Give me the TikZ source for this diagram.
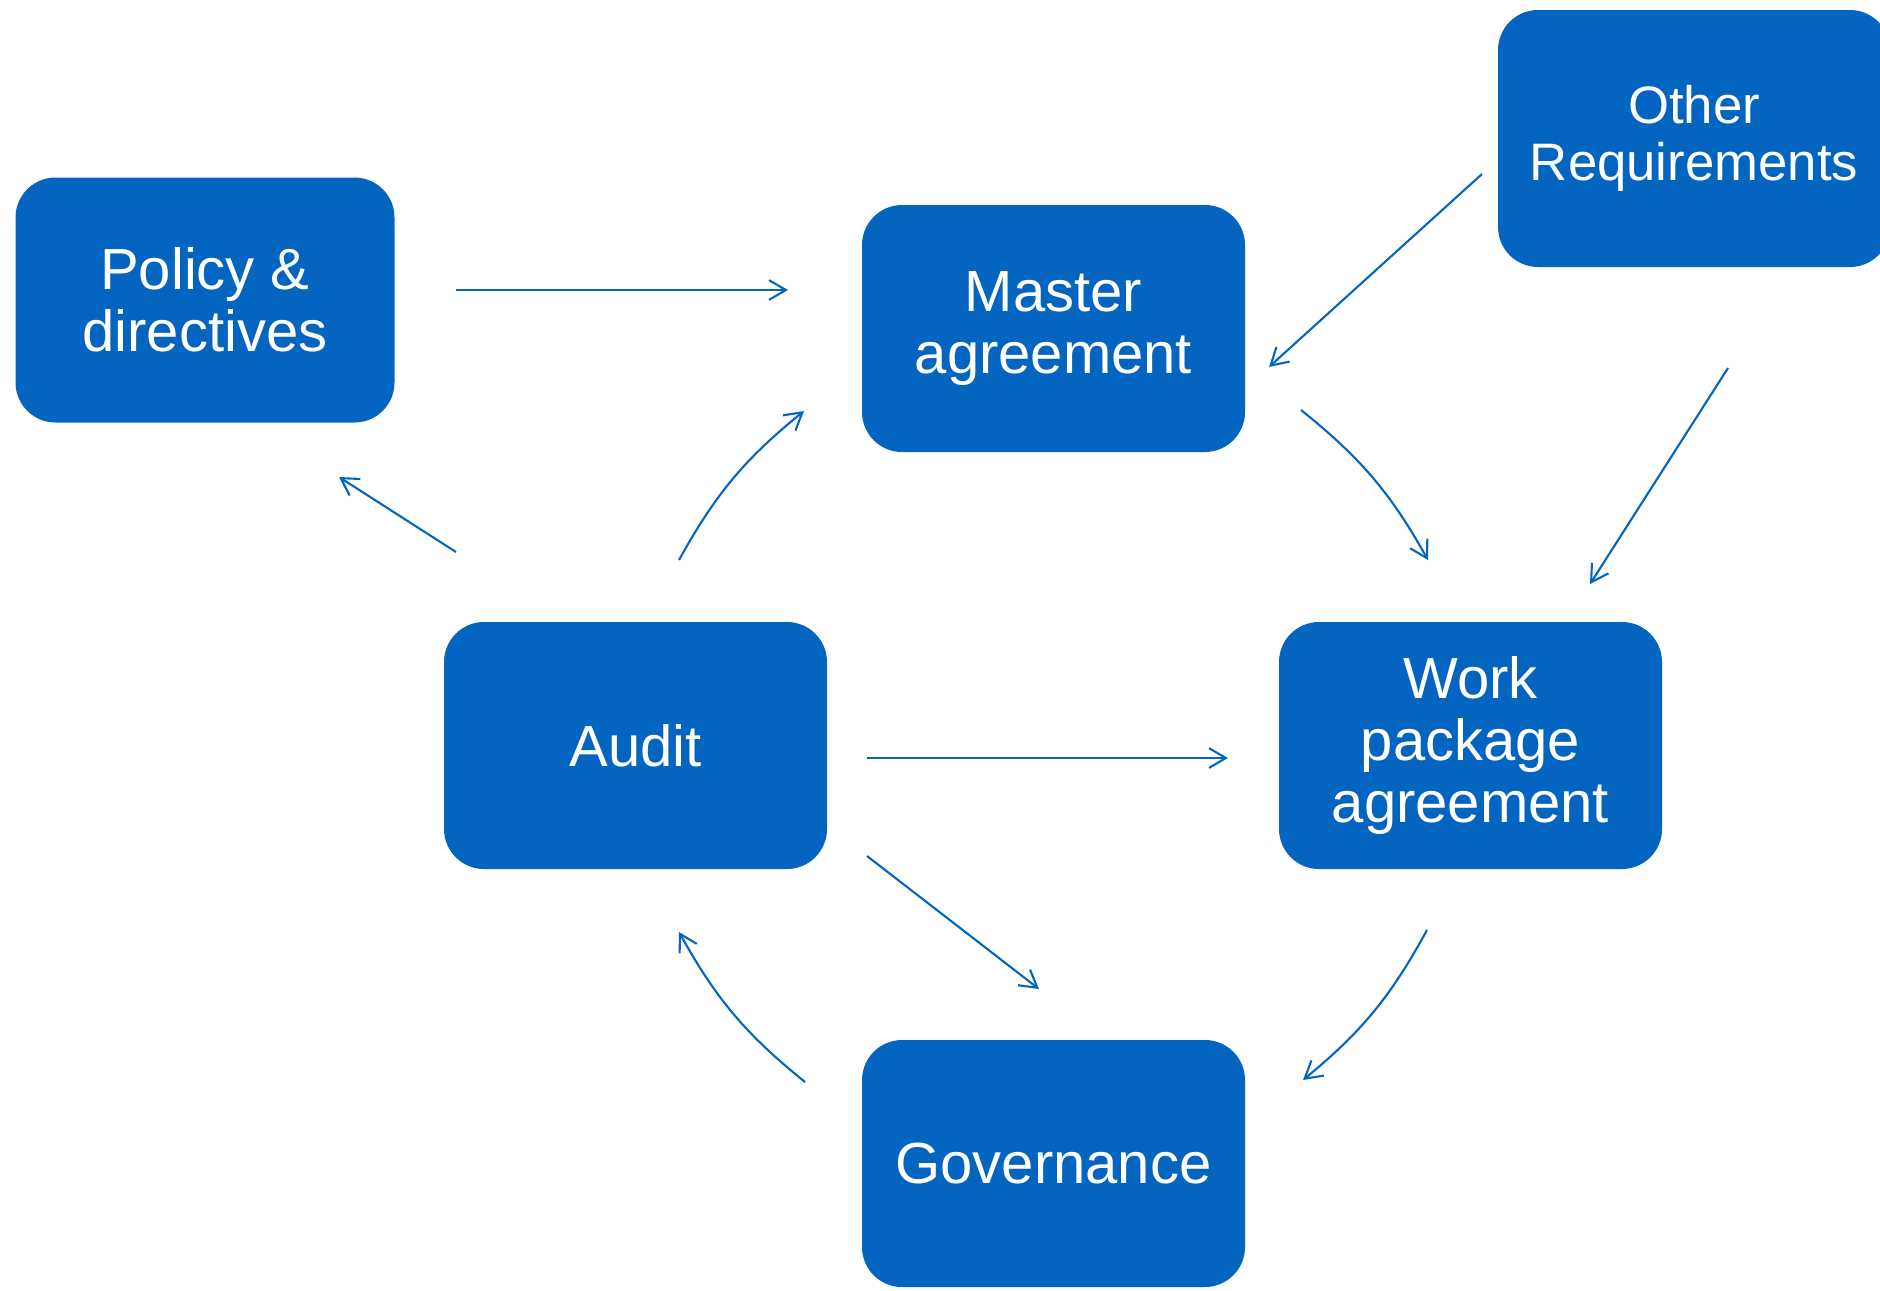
\documentclass[tikz,border=0pt]{standalone}
\usepackage{fontspec}
\setmainfont{Liberation Sans}
\usepackage{tikz}
\usetikzlibrary{arrows.meta}
\definecolor{boxblue}{RGB}{4,101,192}

\begin{document}
\begin{tikzpicture}[
  block/.style={rectangle,rounded corners=0.4cm,fill=boxblue,text=white,align=center,
    minimum width=3.83cm,minimum height=2.47cm,inner sep=0pt,
    font=\fontsize{16.5}{17.6}\selectfont},
  link/.style={draw=boxblue,line width=0.6pt,-{Straight Barb[length=4.8pt,width=5.6pt]}}
]
\useasboundingbox (0,0) rectangle (18.8,-12.9);

%blocks
\node (policy) at (2.05,-3.00) [block,minimum width=3.79cm,minimum height=2.45cm] {Policy \&\\directives};
\node (master) at (10.535,-3.285) [block] {Master\\agreement};
\node (other) at (16.94,-1.385) [block,minimum width=3.92cm,minimum height=2.57cm,font=\fontsize{15}{16.2}\selectfont] {Other\\Requirements};
\node (audit) at (6.355,-7.455) [block] {Audit};
\node (work) at (14.705,-7.455) [block] {Work\\package\\agreement};
\node (gov) at (10.535,-11.635) [block] {Governance};

%free ends of the arrows
\coordinate (p-out) at (4.56,-2.90);   \coordinate (m-in-w) at (7.88,-2.90);
\coordinate (o-out-w) at (14.82,-1.74); \coordinate (m-in-e) at (12.69,-3.67);
\coordinate (o-out-s) at (17.28,-3.68); \coordinate (w-in-n) at (15.90,-5.84);
\coordinate (m-out) at (13.01,-4.10);   \coordinate (w-in) at (14.28,-5.60);
\coordinate (a-out-m) at (6.79,-5.60);  \coordinate (m-in-s) at (8.04,-4.11);
\coordinate (a-out-p) at (4.56,-5.52);  \coordinate (p-in) at (3.39,-4.77);
\coordinate (a-out-w) at (8.67,-7.58);  \coordinate (w-in-w) at (12.28,-7.58);
\coordinate (a-out-g) at (8.67,-8.56);  \coordinate (g-in) at (10.39,-9.89);
\coordinate (w-out) at (14.27,-9.30);   \coordinate (g-in-e) at (13.03,-10.80);
\coordinate (g-out) at (8.05,-10.82);   \coordinate (a-in) at (6.79,-9.32);

%straight arrows
\foreach \a/\b in {p-out/m-in-w, o-out-w/m-in-e, o-out-s/w-in-n, a-out-p/p-in, a-out-w/w-in-w, a-out-g/g-in}{
  \draw [link] (\a) -- (\b);
}
%the cycle round the middle
\foreach \a/\b in {m-out/w-in, a-out-m/m-in-s, w-out/g-in-e, g-out/a-in}{
  \draw [link] (\a) to[bend left=11] (\b);
}
\end{tikzpicture}
\end{document}
